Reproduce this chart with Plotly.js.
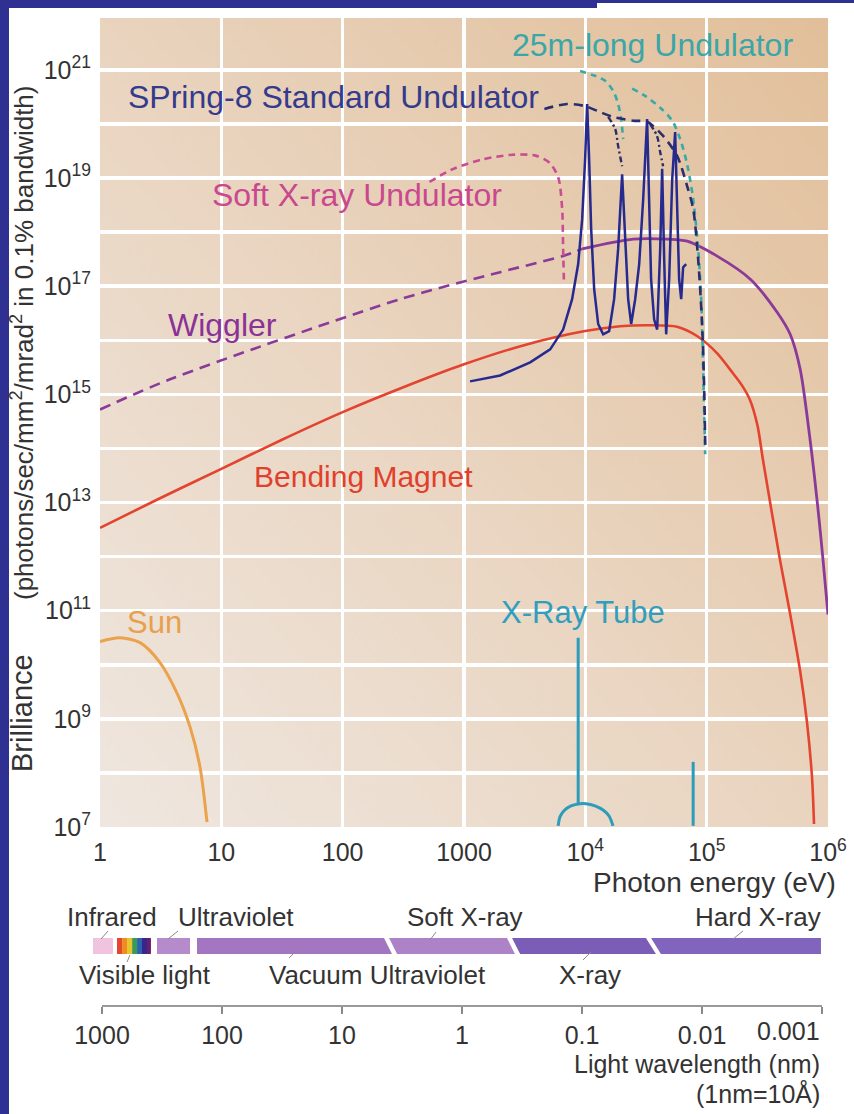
<!DOCTYPE html>
<html><head><meta charset="utf-8">
<script src="https://cdn.plot.ly/plotly-3.0.1.min.js"></script>
<style>html,body{margin:0;padding:0;background:#fff;overflow:hidden}#chart{width:854px;height:1114px}</style>
</head><body><div id="chart"></div>
<script>
// ---------------- DATA (photon energy in eV, brilliance) ----------------
const energyTicks = [1, 10, 100, 1000, 1e4, 1e5, 1e6];
const energyTickLabels = ['1', '10', '100', '1000', '10<sup>4</sup>', '10<sup>5</sup>', '10<sup>6</sup>'];
const brillianceTicks = [1e7,1e8,1e9,1e10,1e11,1e12,1e13,1e14,1e15,1e16,1e17,1e18,1e19,1e20,1e21];
const brillianceTickLabels = ['10<sup>7</sup>','','10<sup>9</sup>','','10<sup>11</sup>','','10<sup>13</sup>','','10<sup>15</sup>','','10<sup>17</sup>','','10<sup>19</sup>','','10<sup>21</sup>'];

const sunEnergy = [1.0, 1.46, 2.14, 3.12, 4.31, 5.52, 6.67, 7.62];
const sunBrilliance = [2.7e10, 3.16e10, 2.57e10, 1.1e10, 3.0e9, 7.1e8, 1.29e8, 1.23e7];

const bendingEnergy = [1, 3.12, 10, 31.6, 100, 320, 1000, 3180, 9940, 19300, 34100, 57000, 83200, 121600, 164800, 196000, 227500, 262000, 291000, 402000, 486000, 588000, 671000, 738000, 767000];
const bendingBrilliance = [3.4e12, 1.2e13, 4.2e13, 1.45e14, 4.7e14, 1.37e15, 3.6e15, 8.2e15, 1.48e16, 1.82e16, 1.9e16, 1.78e16, 1.2e16, 5.8e15, 2.45e15, 1.45e15, 7.9e14, 2.7e14, 6.2e13, 8.7e11, 9.1e10, 7.9e9, 8.7e8, 8.4e7, 1.14e7];

const wigglerDashEnergy = [1, 3.78, 297, 1985, 6560, 9420];
const wigglerDashBrilliance = [5.25e14, 1.9e15, 5.75e16, 1.82e17, 3.63e17, 4.9e17];
const wigglerEnergy = [9420, 24800, 47200, 69000, 122000, 229000, 381000, 488000, 590000, 711000, 828000, 910000, 1.0e6];
const wigglerBrilliance = [4.9e17, 7.4e17, 7.4e17, 6.8e17, 3.6e17, 1.35e17, 3.3e16, 1.29e16, 2.9e15, 1.48e14, 7.4e12, 8.7e11, 8.5e10];

const softUndEnergy = [520, 800, 1400, 2500, 3900, 5100, 6000, 6440, 6560, 6670];
const softUndBrilliance = [8.5e18, 1.45e19, 2.2e19, 2.7e19, 2.6e19, 1.9e19, 1.0e19, 2.7e18, 4.9e17, 1.1e17];

const longUndBranchEnergy = [9060, 11380, 14560, 16950, 18640, 19720, 20510];
const longUndBranchBrilliance = [9.5e20, 8.1e20, 6.3e20, 4.1e20, 2.34e20, 1.23e20, 5.25e19];
const longUndEnergy = [24320, 31120, 41400, 52000, 60530, 69020, 77400, 85110, 90160, 93550, 97270];
const longUndBrilliance = [4.5e20, 3.3e20, 2.0e20, 1.15e20, 5.25e19, 1.8e19, 4.1e18, 4.9e17, 5.75e16, 2.9e15, 7.8e13];

const stdEnvEnergy = [4600, 7080, 9960, 13240, 16950, 24770, 32290, 43750, 57100, 69020, 77400, 85110, 91840, 95450, 97270];
const stdEnvBrilliance = [1.9e20, 2.34e20, 2.14e20, 1.66e20, 1.35e20, 1.15e20, 1.1e20, 6.0e19, 2.57e19, 7.1e18, 2.7e18, 3.16e17, 1.82e16, 1.23e15, 1.17e14];
const stdHarmAEnergy = [15420, 17620, 18640, 20100];
const stdHarmABrilliance = [1.35e20, 8.1e19, 3.9e19, 1.66e19];
const stdHarmBEnergy = [34120, 38990, 41400, 43750];
const stdHarmBBrilliance = [1.0e20, 6.0e19, 3.0e19, 1.66e19];

const stdUndEnergy = [1122, 1985, 3510, 5130, 6560, 7780, 8730, 9420, 9960, 10350, 10750, 11170, 11830, 12760, 14030, 15710, 17270, 18640, 20100, 21280, 22540, 23870, 25750, 27790, 29980, 32290, 33570, 34830, 36900, 39080, 41400, 42960, 44650, 46350, 49090, 52000, 54970, 57100, 59290, 61660, 63970, 67760];
const stdUndBrilliance = [1.74e15, 2.24e15, 3.9e15, 6.8e15, 1.58e16, 5.75e16, 2.57e17, 1.74e18, 2.24e19, 2.34e20, 2.24e19, 1.15e18, 8.7e16, 2.0e16, 1.29e16, 1.48e16, 5.75e16, 4.9e17, 1.17e19, 7.4e17, 5.75e16, 2.0e16, 5.75e16, 2.57e17, 4.1e18, 1.23e20, 4.1e18, 1.35e17, 2.45e16, 1.58e16, 4.9e17, 1.48e19, 3.16e17, 1.29e16, 1.35e17, 9.5e18, 7.1e19, 4.1e18, 1.35e17, 5.75e16, 2.24e17, 2.57e17];

const tubeLineEnergy = [8730, 8730];
const tubeLineBrilliance = [2.6e7, 3.16e10];
const tubeArcEnergy = [5970, 6180, 6670, 7620, 9040, 10140, 12020, 14000, 15680, 16920];
const tubeArcBrilliance = [1.05e7, 1.54e7, 2.0e7, 2.45e7, 2.7e7, 2.7e7, 2.45e7, 2.06e7, 1.6e7, 1.05e7];
const tubeLine2Energy = [77400, 77400];
const tubeLine2Brilliance = [1.05e7, 1.6e8];

// spectrum bands (eV), slanted edges: top / bottom
const bandNames = ['Infrared', 'Ultraviolet', 'Vacuum Ultraviolet', 'Soft X-ray', 'X-ray', 'Hard X-ray'];
const bandLeftTopEV = [0.876, 2.95, 6.3, 241, 2490, 34800];
const bandLeftBottomEV = [0.876, 2.95, 6.3, 281, 2900, 42000];
const bandRightTopEV = [1.28, 5.52, 219, 2260, 31600, 875000];
const bandRightBottomEV = [1.28, 5.52, 255, 2630, 38200, 875000];
const visibleEdgesEV = [1.38, 1.52, 1.67, 1.84, 2.02, 2.22, 2.44, 2.63];

const wavelengthTicks = [1000, 100, 10, 1, 0.1, 0.01, 0.001];
const wavelengthLabels = ['1000', '100', '10', '1', '0.1', '0.01', '0.001'];

// ---------------- STYLE ----------------
const W = 854, H = 1114;
const px = x => x / W, py = y => 1 - y / H;
const bandColors = ['#f0c4de', '#b58bcb', '#a476c1', '#ae82c7', '#7b5db8', '#8064bd'];
const visibleColors = ['#e2482c', '#f08a22', '#e6c62e', '#3d9a4e', '#2a62b4', '#34288a', '#6a1f6e'];
const tickFont = {family: 'Liberation Sans Narrow, Arial Narrow, Liberation Sans, Arial, sans-serif', size: 25, color: '#333'};
const labFont = (c, s) => ({family: 'Liberation Sans, Arial, sans-serif', size: s, color: c});

function line(x, y, color, width, dash, shape, xa, ya) {
  return {x: x, y: y, type: 'scatter', mode: 'lines', xaxis: xa || 'x', yaxis: ya || 'y',
    line: {color: color, width: width, dash: dash || 'solid', shape: shape || 'spline', smoothing: 0.8},
    hoverinfo: 'skip', showlegend: false};
}

const traces = [
  line(sunEnergy, sunBrilliance, '#eaa24c', 3),
  line(bendingEnergy, bendingBrilliance, '#e3432f', 2.6),
  line(wigglerDashEnergy, wigglerDashBrilliance, '#8a3a98', 2.6, '11px,7px'),
  line(wigglerEnergy, wigglerBrilliance, '#8a3a98', 2.8),
  line(softUndEnergy, softUndBrilliance, '#c94d93', 2.6, '7px,5px'),
  line(longUndBranchEnergy, longUndBranchBrilliance, '#35aaa9', 2.6, '6px,5px'),
  line(longUndEnergy, longUndBrilliance, '#35aaa9', 2.6, '6px,5px'),
  line(stdEnvEnergy, stdEnvBrilliance, '#2b2d6c', 2.6, '9px,6px'),
  line(stdHarmAEnergy, stdHarmABrilliance, '#2b2d6c', 2.4, '6px,3px,2px,3px'),
  line(stdHarmBEnergy, stdHarmBBrilliance, '#2b2d6c', 2.4, '6px,3px,2px,3px'),
  line(stdUndEnergy, stdUndBrilliance, '#26298e', 2.5, 'solid', 'linear'),
  line(tubeLineEnergy, tubeLineBrilliance, '#2d9cba', 3, 'solid', 'linear'),
  line(tubeArcEnergy, tubeArcBrilliance, '#2d9cba', 3),
  line(tubeLine2Energy, tubeLine2Brilliance, '#2d9cba', 3, 'solid', 'linear')
];

// band bar polygons
bandNames.forEach((n, i) => {
  traces.push({type: 'scatter', mode: 'lines', xaxis: 'x3', yaxis: 'y3', fill: 'toself',
    x: [bandLeftBottomEV[i], bandLeftTopEV[i], bandRightTopEV[i], bandRightBottomEV[i], bandLeftBottomEV[i]],
    y: [0, 1, 1, 0, 0], fillcolor: bandColors[i], line: {width: 0, color: bandColors[i]},
    hoverinfo: 'skip', showlegend: false, name: n});
});
for (let i = 0; i < visibleEdgesEV.length - 1; i++) {
  const a = visibleEdgesEV[i], b = visibleEdgesEV[i + 1];
  traces.push({type: 'scatter', mode: 'lines', xaxis: 'x3', yaxis: 'y3', fill: 'toself',
    x: [a, a, b, b, a], y: [0, 1, 1, 0, 0], fillcolor: visibleColors[i],
    line: {width: 0, color: visibleColors[i]}, hoverinfo: 'skip', showlegend: false});
}
// anchor trace for the wavelength axis
traces.push({type: 'scatter', mode: 'markers', xaxis: 'x2', yaxis: 'y4', x: wavelengthTicks,
  y: wavelengthTicks.map(() => 0.5), marker: {opacity: 0}, hoverinfo: 'skip', showlegend: false});

// background gradient image
const cv = document.createElement('canvas'); cv.width = 400; cv.height = 400;
const g = cv.getContext('2d');
const grad = g.createLinearGradient(0, 400, 400, 0);
grad.addColorStop(0, '#efe7e0'); grad.addColorStop(0.45, '#ead6c2'); grad.addColorStop(1, '#e2bf9a');
g.fillStyle = grad; g.fillRect(0, 0, 400, 400);

const ann = (text, x, y, font, extra) => Object.assign({text: text, x: px(x), y: py(y), xref: 'paper', yref: 'paper',
  showarrow: false, font: font, xanchor: 'center', yanchor: 'middle'}, extra || {});

const darkText = '#333';
const annotations = [
  ann('25m-long Undulator', 652, 45, labFont('#3aa6a8', 32)),
  ann('SPring-8 Standard Undulator', 333, 97, labFont('#343a8c', 32)),
  ann('Soft X-ray Undulator', 357, 195, labFont('#c9488f', 32)),
  ann('Wiggler', 222, 325, labFont('#8a3296', 32)),
  ann('Bending Magnet', 363, 477, labFont('#e0402c', 30)),
  ann('Sun', 154, 622, labFont('#e8a04c', 31)),
  ann('X-Ray Tube', 583, 612, labFont('#2f9fbd', 31)),
  ann('Brilliance', 22, 713, labFont(darkText, 29), {textangle: -90}),
  ann('(photons/sec/mm<sup>2</sup>/mrad<sup>2</sup> in 0.1% bandwidth)', 22, 343, labFont(darkText, 26), {textangle: -90}),
  ann('Photon energy (eV)', 838, 882, labFont(darkText, 28), {xanchor: 'right'}),
  ann('Infrared', 112, 917, labFont(darkText, 26)),
  ann('Ultraviolet', 236, 917, labFont(darkText, 26)),
  ann('Soft X-ray', 465, 917, labFont(darkText, 26)),
  ann('Hard X-ray', 758, 917, labFont(darkText, 26)),
  ann('Visible light', 145, 975, labFont(darkText, 26)),
  ann('Vacuum Ultraviolet', 377, 975, labFont(darkText, 26)),
  ann('X-ray', 590, 975, labFont(darkText, 26)),
  ann(wavelengthLabels[wavelengthLabels.length - 1], 822, 1031, tickFont, {xanchor: 'right'}),
  ann('Light wavelength (nm)', 822, 1064, labFont(darkText, 25), {xanchor: 'right'}),
  ann('(1nm=10Å)', 822, 1093, labFont(darkText, 25), {xanchor: 'right'})
];

const seg = (x0, y0, x1, y1) => ({type: 'line', xref: 'paper', yref: 'paper', x0: px(x0), y0: py(y0), x1: px(x1), y1: py(y1), line: {color: '#8a8a8a', width: 1}});
const rect = (x0, y0, x1, y1, c) => ({type: 'rect', xref: 'paper', yref: 'paper', x0: px(x0), y0: py(y1), x1: px(x1), y1: py(y0), fillcolor: c, line: {width: 0}, layer: 'above'});
const shapes = [
  rect(0, 0, 9, 1114, '#2e3192'),
  rect(0, 0, 597, 8, '#2e3192'),
  rect(597, 0, 854, 3, '#2e3192'),
  seg(108, 931, 101, 939), seg(178, 931, 168, 939), seg(130, 955, 127, 962),
  seg(297, 950, 289, 958), seg(436, 932, 430, 940), seg(591, 952, 583, 960), seg(743, 931, 733, 939)
];

const layout = {
  width: W, height: H, margin: {l: 0, r: 0, t: 0, b: 0},
  paper_bgcolor: '#ffffff', plot_bgcolor: 'rgba(0,0,0,0)', showlegend: false,
  xaxis: {type: 'log', domain: [px(100), px(828)], range: [0, 6], anchor: 'y',
    tickvals: energyTicks, ticktext: energyTickLabels, ticks: '', showgrid: true, gridcolor: '#ffffff', gridwidth: 3.5,
    zeroline: false, showline: false, tickfont: tickFont, ticklabelstandoff: 8},
  yaxis: {type: 'log', domain: [py(827), py(18)], range: [7.0, 21.96], anchor: 'x',
    tickvals: brillianceTicks, ticktext: brillianceTickLabels, ticks: '', showgrid: true, gridcolor: '#ffffff', gridwidth: 3.5,
    zeroline: false, showline: false, tickfont: tickFont, ticklabelstandoff: 8},
  xaxis3: {type: 'log', domain: [px(88), px(828)], range: [-12 / 121.333, 6], anchor: 'y3', visible: false},
  yaxis3: {domain: [py(954), py(938)], range: [0, 1], anchor: 'x3', visible: false},
  xaxis2: {type: 'log', domain: [px(102), px(822)], range: [3, -3], anchor: 'y4',
    tickvals: wavelengthTicks, ticktext: wavelengthLabels.map((t, i) => i === wavelengthLabels.length - 1 ? '' : t),
    ticks: 'outside', ticklen: 7, tickcolor: '#8a8a8a', tickwidth: 1.2, showline: true, linecolor: '#9a9a9a', linewidth: 1.5,
    showgrid: false, zeroline: false, tickfont: tickFont},
  yaxis4: {domain: [py(1005), py(998)], range: [0, 1], anchor: 'x2', visible: false},
  images: [{source: cv.toDataURL(), xref: 'paper', yref: 'paper', x: px(100), y: py(18), sizex: px(828) - px(100), sizey: py(18) - py(827),
    sizing: 'stretch', layer: 'below', xanchor: 'left', yanchor: 'top'}],
  annotations: annotations,
  shapes: shapes
};

Plotly.newPlot('chart', traces, layout, {staticPlot: true, displayModeBar: false});
</script></body></html>
